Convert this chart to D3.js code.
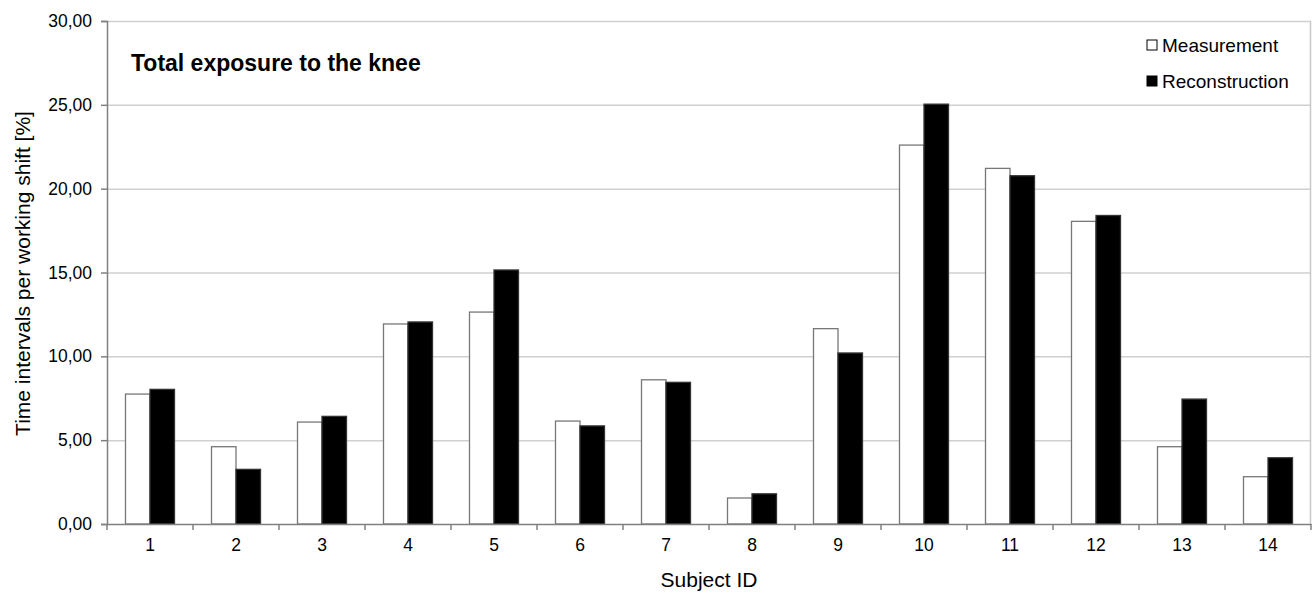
<!DOCTYPE html>
<html><head><meta charset="utf-8">
<script src="https://cdn.jsdelivr.net/npm/d3@7"></script>
<style>body{margin:0;background:#fff}svg{display:block}text{font-family:"Liberation Sans",Arial,sans-serif}</style>
</head><body>
<svg id="c" width="1313" height="592"></svg>
<script>
const categories = ["1","2","3","4","5","6","7","8","9","10","11","12","13","14"];
const measurement = [7.75,4.61,6.08,11.93,12.64,6.14,8.60,1.55,11.65,22.60,21.21,18.05,4.61,2.82];
const reconstruction = [8.03,3.26,6.42,12.05,15.15,5.85,8.45,1.80,10.20,25.04,20.77,18.40,7.45,3.95];
const seriesNames = ["Measurement","Reconstruction"];
const yTicks = [0,5,10,15,20,25,30];

const svg = d3.select("#c");
const L=107, R=1311, T=21, B=524;
const x = d3.scaleBand().domain(categories).range([L,R]).paddingInner(0).paddingOuter(0);
const y = d3.scaleLinear().domain([0,30]).range([B,T]);
const fmt = v => d3.format(".2f")(v).replace(".", ",");

// gridlines
svg.append("g").selectAll("line").data(yTicks.filter(d=>d>0)).join("line")
  .attr("x1",L).attr("x2",R).attr("y1",d=>y(d)+0.5).attr("y2",d=>y(d)+0.5)
  .attr("stroke","#d0d0d0").attr("stroke-width",1.5);
// right border
svg.append("line").attr("x1",R-0.5).attr("x2",R-0.5).attr("y1",T).attr("y2",B).attr("stroke","#c8c8c8").attr("stroke-width",1.5);

// bars
const bw = 24.5;
const series = [measurement, reconstruction];
series.forEach((vals,si)=>{
  svg.append("g").selectAll("rect").data(vals).join("rect")
    .attr("x",(d,i)=>x(categories[i])+x.bandwidth()/2 - bw + si*bw)
    .attr("y",d=>y(d))
    .attr("width",bw)
    .attr("height",d=>B-y(d))
    .attr("fill",si===0?"#fff":"#000")
    .attr("stroke",si===0?"#777":"#333")
    .attr("stroke-width",1.3);
});

// y axis
const ya = svg.append("g").attr("transform",`translate(${L},0)`)
  .call(d3.axisLeft(y).tickValues(yTicks).tickFormat(fmt).tickSize(6).tickPadding(9));
ya.select(".domain").attr("stroke","#808080").attr("stroke-width",1.5);
ya.selectAll(".tick line").attr("stroke","#808080").attr("stroke-width",1.5);
ya.selectAll(".tick text").attr("font-size",17.5).attr("fill","#000");

// x axis
const xa = svg.append("g").attr("transform",`translate(0,${B})`)
  .call(d3.axisBottom(x).tickSize(0).tickPadding(15));
xa.select(".domain").attr("stroke","#808080").attr("stroke-width",1.5);
xa.selectAll(".tick text").attr("font-size",17.5).attr("fill","#000");
// category boundary ticks
svg.append("g").selectAll("line").data(categories.concat(["end"])).join("line")
  .attr("x1",(d,i)=>L+i*x.bandwidth()).attr("x2",(d,i)=>L+i*x.bandwidth())
  .attr("y1",B).attr("y2",B+6).attr("stroke","#808080").attr("stroke-width",1.5);

// titles
svg.append("text").attr("x",131).attr("y",71).attr("font-size",23).attr("font-weight","bold").text("Total exposure to the knee");
svg.append("text").attr("x",(L+R)/2).attr("y",587).attr("text-anchor","middle").attr("font-size",21).text("Subject ID");
svg.append("text").attr("transform",`translate(30,${(T+B)/2+1}) rotate(-90)`).attr("text-anchor","middle").attr("font-size",21).text("Time intervals per working shift [%]");

// legend
const lg = svg.append("g");
seriesNames.forEach((n,i)=>{
  const yy = 45 + i*36;
  lg.append("rect").attr("x",1147).attr("y",yy-5).attr("width",10).attr("height",10)
    .attr("fill",i===0?"#fff":"#000").attr("stroke","#000").attr("stroke-width",1);
  lg.append("text").attr("x",1162).attr("y",yy+7).attr("font-size",19).text(n);
});
</script>
</body></html>
